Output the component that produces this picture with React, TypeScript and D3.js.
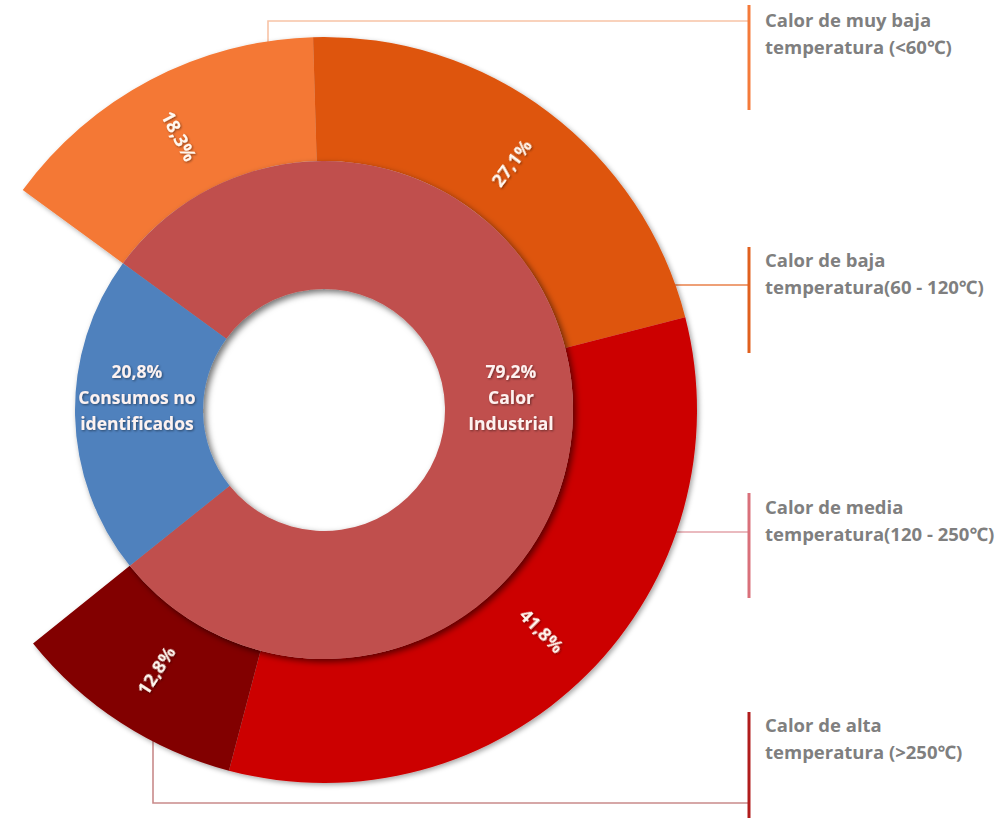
import React from "react";
import * as d3 from "d3";

const innerCategories = ["Calor Industrial", "Consumos no identificados"];
const innerValues = [79.2, 20.8];
const innerLabelLines = [["79,2%", "Calor", "Industrial"], ["20,8%", "Consumos no", "identificados"]];
const innerColors = ["#c0504d", "#4f81bd"];

const outerCategories = [
  "Calor de muy baja temperatura (<60℃)",
  "Calor de baja temperatura(60 - 120℃)",
  "Calor de media temperatura(120 - 250℃)",
  "Calor de alta temperatura (>250℃)",
];
const outerValues = [18.3, 27.1, 41.8, 12.8];
const outerLabels = ["18,3%", "27,1%", "41,8%", "12,8%"];
const outerColors = ["#f47835", "#de540f", "#cc0000", "#820000"];

const legendLines = [
  ["Calor de muy baja", "temperatura (<60℃)"],
  ["Calor de baja", "temperatura(60 - 120℃)"],
  ["Calor de media", "temperatura(120 - 250℃)"],
  ["Calor de alta", "temperatura (>250℃)"],
];
const legendBarColors = ["#f47a3a", "#e0601e", "#d9707a", "#b01c1c"];
const legendLineColors = ["#f8c3a6", "#e8804a", "#e3a3aa", "#c98a8a"];

const W = 1004;
const H = 818;
const cx = 324;
const cy = 410;
const rHole = 121;
const rMid = 249;
const rOut = 373;
const rotationOffset = (-1.3 * Math.PI) / 180;

export default function App() {
  const total = d3.sum(innerValues);
  const blueSpan = (innerValues[1] / total) * 2 * Math.PI;
  const a0 = (3 * Math.PI) / 2 + blueSpan / 2 - 2 * Math.PI + rotationOffset; // red slice starts here
  const innerPie = d3.pie<number>().sort(null).value((d) => d).startAngle(a0).endAngle(a0 + 2 * Math.PI);
  const innerArcs = innerPie(innerValues);
  const redEnd = innerArcs[0].endAngle;
  const outerPie = d3.pie<number>().sort(null).value((d) => d).startAngle(a0).endAngle(redEnd);
  const outerArcs = outerPie(outerValues);

  const innerArc = d3.arc<any>().innerRadius(rHole).outerRadius(rMid);
  const outerArc = d3.arc<any>().innerRadius(rMid).outerRadius(rOut);

  const labelR = 310;
  const outerLabelPos = outerArcs.map((a) => {
    const m = (a.startAngle + a.endAngle) / 2;
    const x = cx + labelR * Math.sin(m);
    const y = cy - labelR * Math.cos(m);
    const dx = Math.sin(m);
    const dy = -Math.cos(m);
    let rot = (Math.atan2(dy, dx) * 180) / Math.PI;
    if (dx < 0) rot += 180;
    return { x, y, rot };
  });

  // Leader geometry (layout)
  const edgeXAtY = (y: number) => cx + Math.sqrt(rOut * rOut - (y - cy) * (y - cy));
  const edgeYAtXTop = (x: number) => cy - Math.sqrt(rOut * rOut - (x - cx) * (x - cx));
  const edgeYAtXBot = (x: number) => cy + Math.sqrt(rOut * rOut - (x - cx) * (x - cx));
  const barX = 749;
  const leaderPaths = [
    `M268,${edgeYAtXTop(268) + 6} L268,21 L${barX},21`,
    `M${edgeXAtY(285) - 6},285 L${barX},285`,
    `M${edgeXAtY(532) - 6},532 L${barX},532`,
    `M153,${edgeYAtXBot(153) - 6} L153,803 L${barX},803`,
  ];
  const barRanges = [
    [5, 110],
    [247, 353],
    [493, 598],
    [712, 818],
  ];
  const legendBase = [27, 267, 514, 732];
  const lineGap = 27;

  const innerLabelCenters = [
    { x: 511, y: 378 },
    { x: 137, y: 378 },
  ];

  const font = "'Open Sans', 'Noto Sans', sans-serif";

  return (
    <div style={{ position: "absolute", left: 0, top: 0 }}>
      <svg width={W} height={H} style={{ display: "block", background: "#fff" }}>
        <defs>
          <filter id="shadowInner" x="-20%" y="-20%" width="140%" height="140%">
            <feDropShadow dx="3" dy="3" stdDeviation="3" floodColor="#000" floodOpacity="0.55" />
          </filter>
          <filter id="shadowOuter" x="-20%" y="-20%" width="140%" height="140%">
            <feDropShadow dx="2" dy="2" stdDeviation="2.5" floodColor="#000" floodOpacity="0.35" />
          </filter>
          <filter id="textShadow" x="-20%" y="-20%" width="140%" height="140%">
            <feDropShadow dx="1" dy="1" stdDeviation="0.8" floodColor="#000" floodOpacity="0.45" />
          </filter>
        </defs>

        {/* leader lines */}
        {leaderPaths.map((p, i) => (
          <path key={"l" + i} d={p} fill="none" stroke={legendLineColors[i]} strokeWidth={1.6} />
        ))}
        {barRanges.map((r, i) => (
          <line key={"b" + i} x1={barX} x2={barX} y1={r[0]} y2={r[1]} stroke={legendBarColors[i]} strokeWidth={3} />
        ))}

        {/* outer ring */}
        <g transform={`translate(${cx},${cy})`} filter="url(#shadowOuter)">
          {outerArcs.map((a, i) => (
            <path key={outerCategories[i]} d={outerArc(a) as string} fill={outerColors[i]} />
          ))}
        </g>

        {/* inner ring */}
        <g transform={`translate(${cx},${cy})`} filter="url(#shadowInner)">
          {innerArcs.map((a, i) => (
            <path key={innerCategories[i]} d={innerArc(a) as string} fill={innerColors[i]} />
          ))}
        </g>

        {/* outer labels */}
        <g filter="url(#textShadow)">
          {outerArcs.map((a, i) => (
            <text
              key={"ol" + i}
              transform={`translate(${outerLabelPos[i].x},${outerLabelPos[i].y}) rotate(${outerLabelPos[i].rot})`}
              textAnchor="middle"
              dominantBaseline="central"
              fontFamily={font}
              fontWeight="bold"
              fontSize={18.5}
              fill="#fff8f0"
            >
              {outerLabels[i]}
            </text>
          ))}
        </g>

        {/* inner labels */}
        <g filter="url(#textShadow)">
          {innerLabelLines.map((lines, i) => (
            <text
              key={"il" + i}
              textAnchor="middle"
              fontFamily={font}
              fontWeight="bold"
              fontSize={17.5}
              fill="#fdf2f0"
            >
              {lines.map((t, j) => (
                <tspan key={j} x={innerLabelCenters[i].x} y={innerLabelCenters[i].y + j * 26}>
                  {t}
                </tspan>
              ))}
            </text>
          ))}
        </g>

        {/* legend texts */}
        {legendLines.map((lines, i) => (
          <text key={"lg" + i} fontFamily={font} fontWeight="bold" fontSize={18.5} fill="#7f7f7f">
            {lines.map((t, j) => (
              <tspan key={j} x={765} y={legendBase[i] + j * lineGap}>
                {t}
              </tspan>
            ))}
          </text>
        ))}
      </svg>
    </div>
  );
}
